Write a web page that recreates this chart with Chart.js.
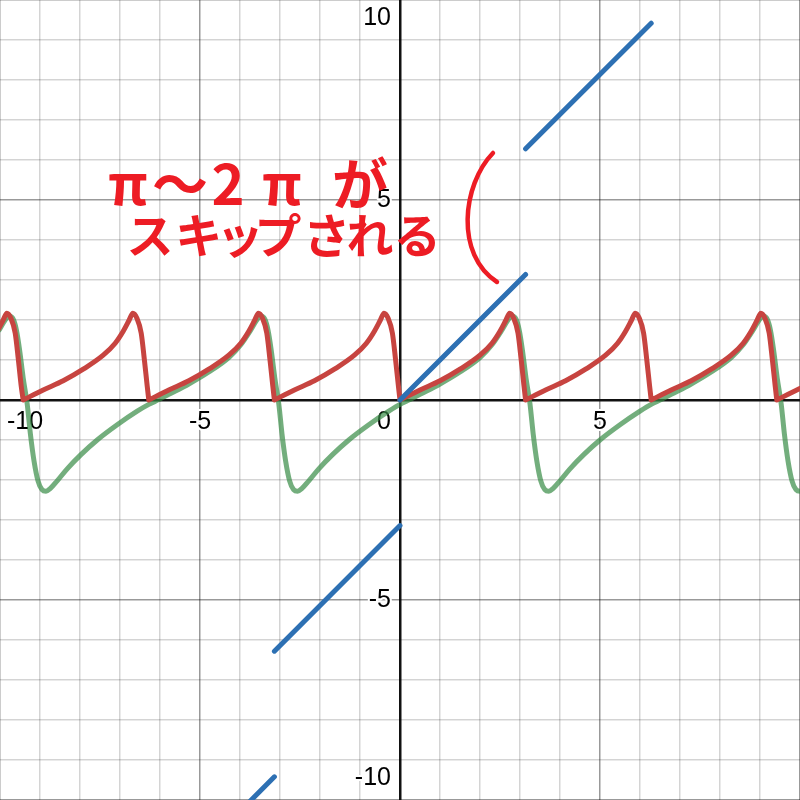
<!DOCTYPE html>
<html lang="ja">
<head>
<meta charset="utf-8">
<title>π～2πがスキップされる</title>
<script src="https://cdn.jsdelivr.net/npm/chart.js@4.4.1/dist/chart.umd.min.js"></script>
<style>
    html, body { margin: 0; padding: 0; background: #fff; }
    #wrap { width: 800px; height: 800px; position: relative; }
</style>
</head>
<body>
<div id="wrap"><canvas id="main-chart"></canvas></div>
<script>
const x_range = [-10, 10];
const y_range = [-10, 10];
const x_tick_labels = [-10, -5, 5];
const y_tick_labels = [10, 5, -5, -10];
const origin_label = "0";

// blue: straight pieces, end points
const blue_seg_x = [[-6.28, -3.14], [-3.14, 0], [0, 3.14], [3.14, 6.28]];
const blue_seg_y = [[-12.57, -9.42], [-6.28, -3.14], [0, 3.14], [6.28, 9.42]];

// red curve
const red_x = [
    -10.27, -10.07, -9.92, -9.83, -9.73, -9.62, -9.54, -9.47, -9.42,
    -8.92, -8.42, -7.92, -7.42, -7.12, -6.92, -6.77, -6.68, -6.58, -6.47, -6.39, -6.32, -6.28,
    -5.78, -5.28, -4.78, -4.28, -3.98, -3.78, -3.63, -3.54, -3.44, -3.33, -3.25, -3.18, -3.14,
    -2.64, -2.14, -1.64, -1.14, -0.84, -0.64, -0.49, -0.40, -0.30, -0.19, -0.11, -0.04, 0,
    0.5, 1.0, 1.5, 2.0, 2.3, 2.5, 2.65, 2.74, 2.84, 2.95, 3.03, 3.10, 3.14,
    3.64, 4.14, 4.64, 5.14, 5.44, 5.64, 5.79, 5.88, 5.98, 6.09, 6.17, 6.24, 6.28,
    6.78, 7.28, 7.78, 8.28, 8.58, 8.78, 8.93, 9.02, 9.12, 9.23, 9.31, 9.38, 9.42,
    9.92, 10.42
];
const red_y = [
    1.42, 1.72, 2.00, 2.17, 2.05, 1.67, 1.00, 0.35, 0,
    0.25, 0.48, 0.77, 1.12, 1.42, 1.72, 2.00, 2.17, 2.05, 1.67, 1.00, 0.35, 0,
    0.25, 0.48, 0.77, 1.12, 1.42, 1.72, 2.00, 2.17, 2.05, 1.67, 1.00, 0.35, 0,
    0.25, 0.48, 0.77, 1.12, 1.42, 1.72, 2.00, 2.17, 2.05, 1.67, 1.00, 0.35, 0,
    0.25, 0.48, 0.77, 1.12, 1.42, 1.72, 2.00, 2.17, 2.05, 1.67, 1.00, 0.35, 0,
    0.25, 0.48, 0.77, 1.12, 1.42, 1.72, 2.00, 2.17, 2.05, 1.67, 1.00, 0.35, 0,
    0.25, 0.48, 0.77, 1.12, 1.42, 1.72, 2.00, 2.17, 2.05, 1.67, 1.00, 0.35, 0,
    0.25, 0.48
];

// green curve
const green_x = [
    -10.27, -10.02, -9.87, -9.77, -9.67, -9.59, -9.51, -9.42, -9.32, -9.24, -9.15,
    -9.05, -8.95, -8.85, -8.74, -8.57, -8.32, -7.97, -7.57, -7.07, -6.57,
    -6.28, -6.03, -5.78, -5.28, -4.78, -4.28, -3.98, -3.73, -3.58, -3.48, -3.38, -3.30, -3.22, -3.13,
    -3.03, -2.95, -2.86, -2.76, -2.66, -2.56, -2.45, -2.28, -2.03, -1.68, -1.28, -0.78, -0.28,
    0, 0.25, 0.5, 1.0, 1.5, 2.0, 2.3, 2.55, 2.7, 2.8, 2.9, 2.98, 3.06, 3.15,
    3.25, 3.33, 3.42, 3.52, 3.62, 3.72, 3.83, 4.0, 4.25, 4.6, 5.0, 5.5, 6.0,
    6.28, 6.53, 6.78, 7.28, 7.78, 8.28, 8.58, 8.83, 8.98, 9.08, 9.18, 9.26, 9.34, 9.43,
    9.53, 9.61, 9.70, 9.80, 9.90, 10.0, 10.11, 10.28
];
const green_y = [
    1.38, 1.75, 2.00, 2.10, 2.02, 1.75, 1.25, 0.55, -0.10, -0.85, -1.52,
    -2.02, -2.24, -2.28, -2.21, -2.02, -1.72, -1.36, -1.00, -0.62, -0.28,
    -0.11, 0.01, 0.14, 0.40, 0.70, 1.06, 1.38, 1.75, 2.00, 2.10, 2.02, 1.75, 1.25, 0.55,
    -0.10, -0.85, -1.52, -2.02, -2.24, -2.28, -2.21, -2.02, -1.72, -1.36, -1.00, -0.62, -0.28,
    -0.11, 0.01, 0.14, 0.40, 0.70, 1.06, 1.38, 1.75, 2.00, 2.10, 2.02, 1.75, 1.25, 0.55,
    -0.10, -0.85, -1.52, -2.02, -2.24, -2.28, -2.21, -2.02, -1.72, -1.36, -1.00, -0.62, -0.28,
    -0.11, 0.01, 0.14, 0.40, 0.70, 1.06, 1.38, 1.75, 2.00, 2.10, 2.02, 1.75, 1.25, 0.55,
    -0.10, -0.85, -1.52, -2.02, -2.24, -2.28, -2.21, -2.02
];

const note_lines = ["π～2πが", "スキップされる"];

document.addEventListener("DOMContentLoaded", () => {
    const ctx = document.getElementById("main-chart").getContext("2d");

    const to_points = (xs, ys) => xs.map((x, i) => ({ x: x, y: ys[i] }));

    // blue pieces joined with a null so the line breaks between them
    const blue_points = [];
    blue_seg_x.forEach((seg, i) => {
        if (i > 0) blue_points.push({ x: seg[0], y: null });
        blue_points.push({ x: seg[0], y: blue_seg_y[i][0] });
        blue_points.push({ x: seg[1], y: blue_seg_y[i][1] });
    });

    // red: break the line at every zero so the corner there stays sharp
    const red_points = [];
    red_x.forEach((x, i) => {
        red_points.push({ x: x, y: red_y[i] });
        if (red_y[i] === 0 && i > 0 && i < red_x.length - 1) {
            red_points.push({ x: x, y: null });
            red_points.push({ x: x, y: red_y[i] });
        }
    });

    const grid_color = (c) => {
        const v = c.tick ? c.tick.value : 1;
        if (v === 0) return "#111";
        if (v % 5 === 0) return "rgba(0, 0, 0, 0.4)";
        return "rgba(0, 0, 0, 0.17)";
    };
    const grid_width = (c) => (c.tick && c.tick.value === 0 ? 2.5 : 1.5);

    const axis_labels = {
        id: "axis_labels",
        beforeDatasetsDraw(chart) {
            const { ctx, chartArea, scales } = chart;
            const x0 = scales.x.getPixelForValue(0);
            const y0 = scales.y.getPixelForValue(0);
            ctx.save();
            ctx.font = '25px "Liberation Sans", Arial, sans-serif';
            ctx.fillStyle = "#000";
            ctx.strokeStyle = "#fff";
            ctx.lineWidth = 4;
            ctx.lineJoin = "round";
            ctx.textBaseline = "middle";

            const put = (s, px, py) => {
                ctx.strokeText(s, px, py);
                ctx.fillText(s, px, py);
            };

            ctx.textAlign = "center";
            x_tick_labels.forEach((v) => {
                const s = String(v);
                const w = ctx.measureText(s).width;
                let px = scales.x.getPixelForValue(v);
                px = Math.max(chartArea.left + 7 + w / 2, Math.min(chartArea.right - 7 - w / 2, px));
                put(s, px, y0 + 22);
            });

            ctx.textAlign = "right";
            y_tick_labels.forEach((v) => {
                let py = scales.y.getPixelForValue(v);
                py = Math.max(chartArea.top + 18, Math.min(chartArea.bottom - 22, py));
                put(String(v), x0 - 9, py);
            });
            put(origin_label, x0 - 9, y0 + 22);
            ctx.restore();
        },
    };

    const handwritten_note = {
        id: "handwritten_note",
        afterDatasetsDraw(chart) {
            const { ctx, scales } = chart;
            const sx = (v) => scales.x.getPixelForValue(v);
            const sy = (v) => scales.y.getPixelForValue(v);
            const line_y = [5.4, 4.125];
            const line_size = [56, 47];
            const char_x = [
                [-6.8, -5.5, -4.3, -2.95, -1.0],
                [-6.25, -5.03, -4.0, -3.05, -1.83, -0.75, 0.43],
            ];
            ctx.save();
            ctx.fillStyle = "#ed1c24";
            ctx.textAlign = "center";
            ctx.textBaseline = "middle";
            note_lines.forEach((line, li) => {
                ctx.font = `bold ${line_size[li]}px "Noto Sans CJK JP", sans-serif`;
                Array.from(line).forEach((ch, ci) => {
                    ctx.fillText(ch, sx(char_x[li][ci]), sy(line_y[li]));
                });
            });

            // the big bracket next to the gap
            ctx.strokeStyle = "#ed1c24";
            ctx.lineWidth = 4.5;
            ctx.lineCap = "round";
            ctx.beginPath();
            ctx.moveTo(sx(2.325), sy(6.175));
            ctx.bezierCurveTo(sx(1.55), sy(5.375), sx(1.375), sy(3.625), sx(2.425), sy(2.95));
            ctx.stroke();
            ctx.restore();
        },
    };

    const line_style = {
        pointRadius: 0,
        borderWidth: 5,
        tension: 0,
        fill: false,
        spanGaps: false,
        borderJoinStyle: "round",
        borderCapStyle: "round",
    };

    new Chart(ctx, {
        type: "line",
        data: {
            datasets: [
                { ...line_style, label: "blue", data: blue_points, borderColor: "#2d70b3" },
                { ...line_style, label: "red", data: red_points, borderColor: "#c74440", cubicInterpolationMode: "monotone" },
                { ...line_style, label: "green", data: to_points(green_x, green_y), borderColor: "rgba(56, 140, 70, 0.7)", cubicInterpolationMode: "monotone" },
            ],
        },
        options: {
            responsive: true,
            maintainAspectRatio: false,
            animation: false,
            events: [],
            layout: { padding: 0 },
            plugins: {
                legend: { display: false },
                tooltip: { enabled: false },
            },
            scales: {
                x: {
                    type: "linear",
                    min: x_range[0],
                    max: x_range[1],
                    ticks: { display: false, stepSize: 1 },
                    grid: { color: grid_color, lineWidth: grid_width, drawTicks: false },
                    border: { display: false },
                },
                y: {
                    type: "linear",
                    min: y_range[0],
                    max: y_range[1],
                    ticks: { display: false, stepSize: 1 },
                    grid: { color: grid_color, lineWidth: grid_width, drawTicks: false },
                    border: { display: false },
                },
            },
        },
        plugins: [axis_labels, handwritten_note],
    });
});
</script>
</body>
</html>
